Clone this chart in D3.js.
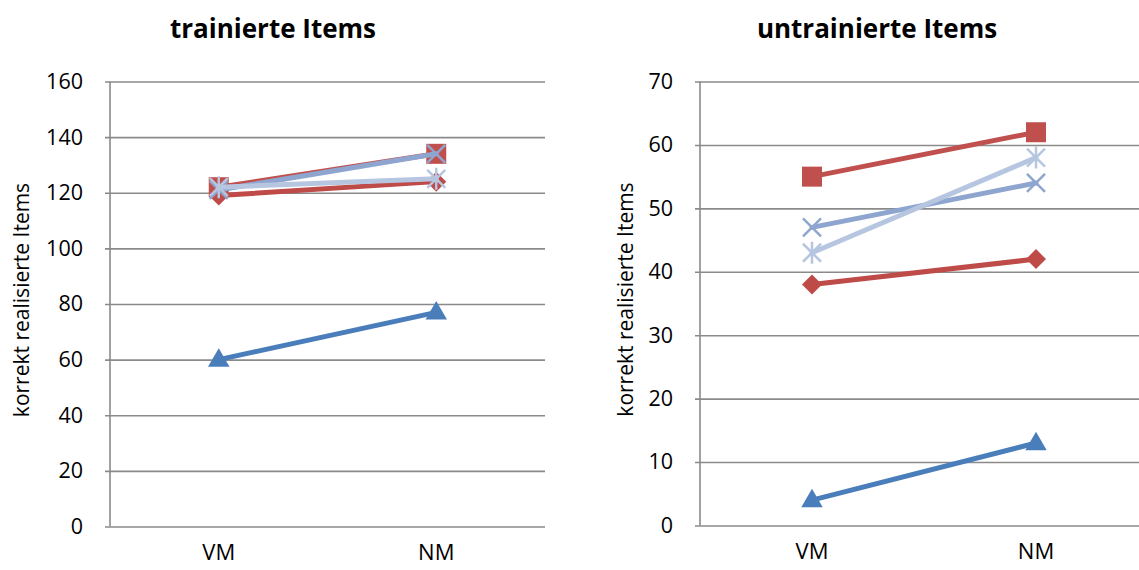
<!DOCTYPE html>
<html><head><meta charset="utf-8">
<script src="https://cdn.jsdelivr.net/npm/d3@7"></script>
<style>
html,body{margin:0;padding:0;background:#fff;}
svg{display:block;font-family:"Open Sans",sans-serif;}
</style></head>
<body>
<svg id="c" width="1139" height="570"></svg>
<script>
const categories = ["VM", "NM"];
const titles = ["trainierte Items", "untrainierte Items"];
const yLabel = "korrekt realisierte Items";
const leftTicks = [0, 20, 40, 60, 80, 100, 120, 140, 160];
const rightTicks = [0, 10, 20, 30, 40, 50, 60, 70];
const seriesNames = ["triangle", "diamond", "square", "cross", "star"];
const seriesColors = ["#4A7EBB", "#BE4B48", "#C0504D", "#8EA6CF", "#B7C6E0"];
const trainedValues = [[60, 77], [119, 124], [122, 134], [121, 134], [122, 125]];
const untrainedValues = [[4, 13], [38, 42], [55, 62], [47, 54], [43, 58]];

const svg = d3.select("#c");
const FONT = "'Open Sans',sans-serif";

function drawChart(cfg) {
  const g = svg.append("g").attr("transform", `translate(${cfg.x0},${cfg.y0})`);
  const x = d3.scaleBand().domain(categories).range([0, cfg.w]);
  const y = d3.scaleLinear().domain([0, cfg.max]).range([cfg.h, 0]);

  const grid = g.append("g").call(d3.axisLeft(y).tickValues(cfg.ticks).tickSize(-cfg.w).tickFormat(""));
  grid.select(".domain").remove();
  grid.selectAll("line").attr("x1", -5).attr("stroke", "#8a8a8a").attr("stroke-width", 1.6);

  g.append("line").attr("x1", 0).attr("x2", 0).attr("y1", 0).attr("y2", cfg.h)
    .attr("stroke", "#8a8a8a").attr("stroke-width", 1.6);

  const ya = g.append("g").call(d3.axisLeft(y).tickValues(cfg.ticks).tickSize(0).tickPadding(27));
  ya.select(".domain").remove();
  ya.selectAll("text").attr("font-size", 21.5).attr("fill", "#000").attr("font-family", FONT);

  const xa = g.append("g").attr("transform", `translate(0,${cfg.h})`)
    .call(d3.axisBottom(x).tickSize(0).tickPadding(18));
  xa.select(".domain").remove();
  xa.selectAll("text").attr("font-size", 22).attr("fill", "#000").attr("font-family", FONT);

  svg.append("text").attr("x", cfg.tx).attr("y", 38).attr("text-anchor", "middle")
    .attr("font-size", 26).attr("font-weight", "bold").text(cfg.title);
  svg.append("text").attr("transform", `translate(${cfg.lx},${cfg.y0 + cfg.h / 2 - 4}) rotate(-90)`)
    .attr("text-anchor", "middle").attr("font-size", 21).text(yLabel);

  const cx = c => x(c) + x.bandwidth() / 2;
  const line = d3.line().x((d, i) => cx(categories[i])).y(d => y(d));

  cfg.values.forEach((vals, si) => {
    const col = seriesColors[si];
    g.append("path").datum(vals).attr("d", line).attr("fill", "none")
      .attr("stroke", col).attr("stroke-width", 5).attr("stroke-linecap", "round");
    vals.forEach((v, i) => {
      const px = cx(categories[i]), py = y(v);
      const m = g.append("g").attr("transform", `translate(${px},${py})`);
      const kind = seriesNames[si];
      if (kind === "triangle") {
        m.append("path").attr("d", d3.symbol(d3.symbolTriangle, 200)()).attr("fill", col).attr("transform", "translate(0,1)");
      } else if (kind === "diamond") {
        m.append("path").attr("d", "M0,-10L10,0L0,10L-10,0Z").attr("fill", col);
      } else if (kind === "square") {
        m.append("rect").attr("x", -10).attr("y", -10).attr("width", 20).attr("height", 20).attr("fill", col);
      } else if (kind === "cross") {
        m.append("path").attr("d", "M-9,-9L9,9M-9,9L9,-9").attr("stroke", col).attr("stroke-width", 2.5);
      } else {
        m.append("path").attr("d", "M-9,-9L9,9M-9,9L9,-9M0,-11L0,11").attr("stroke", col).attr("stroke-width", 2.5);
      }
    });
  });
}

drawChart({x0: 110, y0: 81.5, w: 435, h: 445, max: 160, ticks: leftTicks, values: trainedValues,
  title: titles[0], tx: 273, lx: 29});
drawChart({x0: 700, y0: 81.5, w: 448, h: 444, max: 70, ticks: rightTicks, values: untrainedValues,
  title: titles[1], tx: 877, lx: 633});
</script>
</body></html>
